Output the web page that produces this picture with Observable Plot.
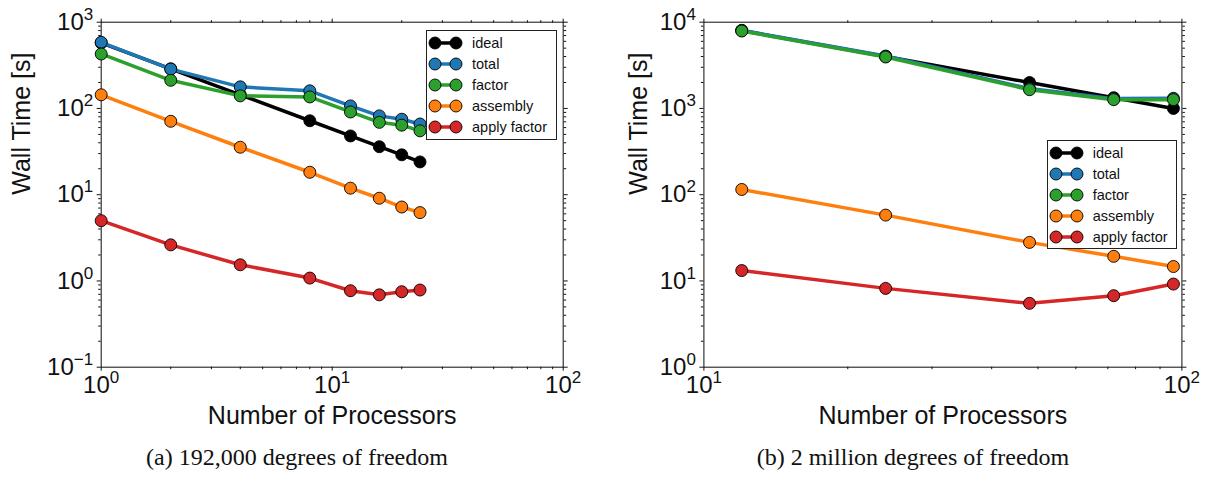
<!DOCTYPE html>
<html>
<head>
<meta charset="utf-8">
<script src="https://cdn.jsdelivr.net/npm/d3@7"></script>
<script src="https://cdn.jsdelivr.net/npm/@observablehq/plot@0.6"></script>
<style>
  body { margin: 0; background: #fff; }
  #wrap { position: relative; width: 1205px; height: 478px; background: #fff; overflow: hidden; }
  .fig { position: absolute; top: 0; }
  .caption { position: absolute; top: 445px; font-family: "Liberation Serif", "Times New Roman", serif; font-size: 24px; line-height: 24px; color: #111; white-space: nowrap; transform: translateX(-50%); }
  .legend { position: absolute; border: 1px solid #222; background: #fff; box-sizing: border-box; font-family: "Liberation Sans", Arial, sans-serif; font-size: 14.5px; color: #111; }
  .legend .row { position: absolute; left: 0; height: 20px; display: flex; align-items: center; }
  .legend .row svg { display: block; }
  .legend .row span { position: absolute; left: 45px; white-space: nowrap; }
</style>
</head>
<body>
<div id="wrap"></div>
<script>
// ---- data ----
const seriesNames = ["ideal", "total", "factor", "assembly", "apply factor"];
const seriesColors = ["#000000", "#1f77b4", "#2ca02c", "#ff7f0e", "#d62728"];

// (a) 192,000 degrees of freedom
const procsA = [1, 2, 4, 8, 12, 16, 20, 24];
const idealA = [575, 288, 144, 72, 48, 36, 29, 24];
const totalA = [585, 286, 178, 160, 107, 82, 75, 66];
const factorA = [428, 212, 140, 136, 91, 69, 64, 55];
const assemblyA = [144, 71, 35.5, 18.2, 11.9, 9.1, 7.2, 6.2];
const applyA = [5.0, 2.62, 1.54, 1.08, 0.77, 0.69, 0.75, 0.785];

// (b) 2 million degrees of freedom
const procsB = [12, 24, 48, 72, 96];
const idealB = [8000, 4000, 2000, 1333, 1000];
const totalB = [8050, 4050, 1700, 1300, 1310];
const factorB = [7900, 3950, 1650, 1265, 1265];
const assemblyB = [115, 58, 28, 19.3, 14.7];
const applyB = [13.2, 8.2, 5.5, 6.75, 9.2];

// ticks
const xTicksA = [1, 10, 100];
const yTicksA = [0.1, 1, 10, 100, 1000];
const xTicksB = [10, 100];
const yTicksB = [1, 10, 100, 1000, 10000];

const xLabel = "Number of Processors";
const yLabel = "Wall Time [s]";
const captionA = "(a) 192,000 degrees of freedom";
const captionB = "(b) 2 million degrees of freedom";

// ---- helpers ----
function minorsOf(majors) {
  const out = [];
  for (let i = 0; i < majors.length - 1; i++)
    for (let k = 2; k <= 9; k++) out.push(majors[i] * k);
  return out;
}
const expFmt = d => "10^" + Math.round(Math.log10(d));
const blank = () => "";

function panel({procs, values, xTicks, yTicks, width, margins, yTitleDx}) {
  const marks = [Plot.frame({stroke: "#222", strokeWidth: 1.1})];
  const xMin = minorsOf(xTicks), yMin = minorsOf(yTicks);
  marks.push(
    Plot.axisX(xTicks, {anchor: "bottom", tickSize: 4, tickPadding: 5, tickFormat: expFmt, label: null, fontSize: 24}),
    Plot.axisX(xTicks, {anchor: "top", tickSize: 4, tickFormat: blank, label: null}),
    Plot.axisX(xMin, {anchor: "bottom", tickSize: 2.5, tickFormat: blank, label: null}),
    Plot.axisX(xMin, {anchor: "top", tickSize: 2.5, tickFormat: blank, label: null}),
    Plot.axisY(yTicks, {anchor: "left", tickSize: 4, tickPadding: 4, tickFormat: expFmt, label: null, fontSize: 24}),
    Plot.axisY(yTicks, {anchor: "right", tickSize: 4, tickFormat: blank, label: null}),
    Plot.axisY(yMin, {anchor: "left", tickSize: 2.5, tickFormat: blank, label: null}),
    Plot.axisY(yMin, {anchor: "right", tickSize: 2.5, tickFormat: blank, label: null})
  );
  values.forEach((ys, s) => {
    const data = procs.map((p, i) => ({p, t: ys[i]}));
    marks.push(
      Plot.line(data, {x: "p", y: "t", stroke: seriesColors[s], strokeWidth: 3.5}),
      Plot.dot(data, {x: "p", y: "t", r: 6, fill: seriesColors[s], stroke: "#000", strokeWidth: 0.9})
    );
  });
  marks.push(
    Plot.text([xLabel], {text: d => d, frameAnchor: "bottom", dy: 57, fontSize: 25}),
    Plot.text([yLabel], {text: d => d, frameAnchor: "left", dx: yTitleDx, rotate: -90, fontSize: 25})
  );
  const svg = Plot.plot({
    width, height: 430,
    marginLeft: margins[0], marginRight: margins[1], marginTop: margins[2], marginBottom: margins[3],
    x: {type: "log", domain: [xTicks[0], xTicks[xTicks.length - 1]]},
    y: {type: "log", domain: [yTicks[0], yTicks[yTicks.length - 1]]},
    style: {fontFamily: "'Liberation Sans', Arial, sans-serif", fontSize: "24px", color: "#111", background: "transparent", overflow: "visible"},
    marks
  });
  // superscript exponents in tick labels
  d3.select(svg).selectAll("text").each(function() {
    const t = this.textContent;
    const m = /^10\^(-?\d+)$/.exec(t);
    if (!m) return;
    const el = d3.select(this);
    el.text("");
    el.style("font-size", "24px");
    el.append("tspan").style("font-size", "24px").text("10");
    el.append("tspan").style("font-size", "17px").attr("dy", -10)
      .text(m[1].replace("-", "\u2212"));
  });
  return svg;
}

function legend(left, top, w, h) {
  const div = document.createElement("div");
  div.className = "legend";
  Object.assign(div.style, {left: left + "px", top: top + "px", width: w + "px", height: h + "px"});
  seriesNames.forEach((name, i) => {
    const row = document.createElement("div");
    row.className = "row";
    row.style.top = (1.7 + 21 * i) + "px";
    const sw = d3.create("svg").attr("width", 44).attr("height", 20);
    sw.append("line").attr("x1", 8).attr("x2", 29).attr("y1", 10).attr("y2", 10)
      .attr("stroke", seriesColors[i]).attr("stroke-width", 3.5);
    [8, 29].forEach(cx => sw.append("circle").attr("cx", cx).attr("cy", 10).attr("r", 6)
      .attr("fill", seriesColors[i]).attr("stroke", "#000").attr("stroke-width", 0.9));
    row.appendChild(sw.node());
    const sp = document.createElement("span");
    sp.textContent = name;
    row.appendChild(sp);
    div.appendChild(row);
  });
  return div;
}

const wrap = document.getElementById("wrap");

const figA = document.createElement("div");
figA.className = "fig"; figA.style.left = "0px";
figA.appendChild(panel({
  procs: procsA, values: [idealA, totalA, factorA, assemblyA, applyA],
  xTicks: xTicksA, yTicks: yTicksA, width: 600,
  margins: [100.7, 37.3, 21.7, 63.3], yTitleDx: -79.7
}));
wrap.appendChild(figA);

const figB = document.createElement("div");
figB.className = "fig"; figB.style.left = "600px";
figB.appendChild(panel({
  procs: procsB, values: [idealB, totalB, factorB, assemblyB, applyB],
  xTicks: xTicksB, yTicks: yTicksB, width: 605,
  margins: [103.4, 23.6, 21.7, 63.3], yTitleDx: -65.4
}));
wrap.appendChild(figB);

wrap.appendChild(legend(426, 30, 131, 110));
wrap.appendChild(legend(1046.7, 140, 130, 109));

const capA = document.createElement("div");
capA.className = "caption"; capA.style.left = "297px"; capA.textContent = captionA;
wrap.appendChild(capA);
const capB = document.createElement("div");
capB.className = "caption"; capB.style.left = "913px"; capB.textContent = captionB;
wrap.appendChild(capB);
</script>
</body>
</html>
